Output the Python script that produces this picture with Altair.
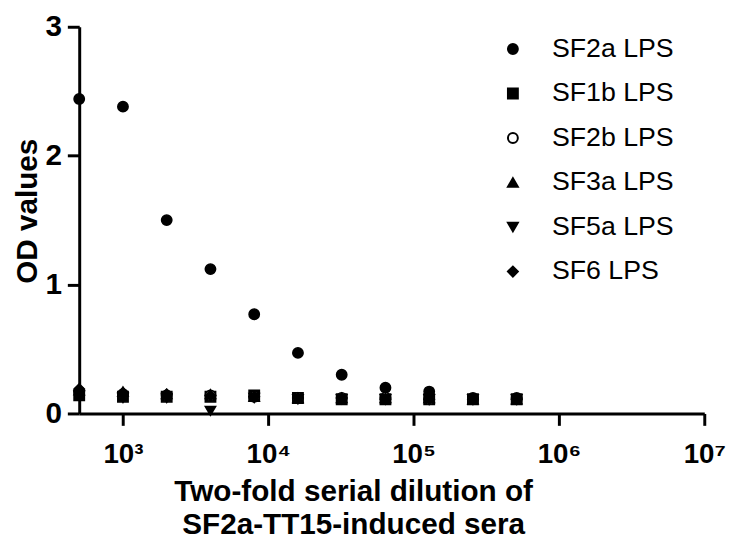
import altair as alt
import pandas as pd

dilutions = [500, 1000, 2000, 4000, 8000, 16000, 32000, 64000, 128000, 256000, 512000]
series = ["SF2a LPS", "SF1b LPS", "SF2b LPS", "SF3a LPS", "SF5a LPS", "SF6 LPS"]

sf2a = [2.44, 2.38, 1.50, 1.12, 0.77, 0.47, 0.30, 0.20, 0.17, 0.12, 0.12]
sf1b = [0.14, 0.13, 0.13, 0.13, 0.14, 0.12, 0.11, 0.11, 0.11, 0.11, 0.11]
sf2b = [0.17, 0.15, 0.14, 0.14, 0.13, 0.12, 0.12, 0.12, 0.11, 0.11, 0.11]
sf3a = [0.18, 0.17, 0.15, 0.15, 0.13, 0.12, 0.12, 0.12, 0.12, 0.11, 0.11]
sf5a = [0.14, 0.12, 0.12, 0.02, 0.12, 0.11, 0.11, 0.11, 0.11, 0.11, 0.11]
sf6 = [0.19, 0.16, 0.15, 0.14, 0.13, 0.12, 0.12, 0.11, 0.11, 0.11, 0.11]

x_ticks = [1e3, 1e4, 1e5, 1e6, 1e7]
x_tick_labels = ["10³", "10⁴", "10⁵", "10⁶", "10⁷"]
y_ticks = [0, 1, 2, 3]

shapes = ["circle", "square", "circle", "triangle-up", "triangle-down", "diamond"]
fills = ["black", "black", "white", "black", "black", "black"]
strokes = ["black"] * 6

rows = []
for name, vals in zip(series, [sf2a, sf1b, sf2b, sf3a, sf5a, sf6]):
    for d, v in zip(dilutions, vals):
        rows.append({"series": name, "dilution": d, "od": v})
df = pd.DataFrame(rows)

label_expr = " : ".join(
    f"datum.value == {int(v)} ? '{t}'" for v, t in zip(x_ticks, x_tick_labels)
) + " : ''"

FONT = "Liberation Sans"

legend = alt.Legend(
    title=None,
    orient="none",
    legendX=425,
    legendY=9,
    labelFont=FONT,
    labelFontSize=27,
    labelColor="black",
    symbolSize=100,
    symbolStrokeWidth=2,
    rowPadding=17,
    labelOffset=26,
)

chart = (
    alt.Chart(df)
    .mark_point(filled=True, size=110, strokeWidth=1.5, opacity=1)
    .encode(
        x=alt.X(
            "dilution:Q",
            scale=alt.Scale(type="log", domain=[500, 1e7], nice=False),
            axis=alt.Axis(
                values=x_ticks,
                labelExpr=label_expr,
                title=["Two-fold serial dilution of", "SF2a-TT15-induced sera"],
                titleX=277,
                titleY=64,
                titleBaseline="top",
                titleAlign="center",
                titleLineHeight=33,
                titleFontSize=30,
                labelFontSize=28,
                labelPadding=16,
                labelFlush=False,
            ),
        ),
        y=alt.Y(
            "od:Q",
            scale=alt.Scale(domain=[0, 3], nice=False),
            axis=alt.Axis(
                values=y_ticks,
                title="OD values",
                labelFontSize=30,
                labelPadding=6,
                titleX=-52,
                titleY=186,
                titleBaseline="middle",
                titleAlign="center",
                titleAngle=270,
                titleFontSize=30,
            ),
        ),
        shape=alt.Shape("series:N", scale=alt.Scale(domain=series, range=shapes), legend=legend),
        fill=alt.Fill("series:N", scale=alt.Scale(domain=series, range=fills), legend=legend),
        stroke=alt.Stroke("series:N", scale=alt.Scale(domain=series, range=strokes), legend=legend),
    )
    .properties(
        width=632,
        height=391,
        autosize=alt.AutoSizeParams(type="none"),
        padding={"left": 72, "top": 16, "right": 25, "bottom": 128},
    )
    .configure_view(stroke=None)
    .configure_axis(
        grid=False,
        domainColor="black",
        domainWidth=3,
        tickColor="black",
        tickWidth=3,
        tickSize=12,
        labelFont=FONT,
        labelFontWeight="bold",
        labelColor="black",
        titleFont=FONT,
        titleFontWeight="bold",
        titleColor="black",
    )
)

chart.save("out.html", embed_options={"renderer": "svg", "actions": False})
